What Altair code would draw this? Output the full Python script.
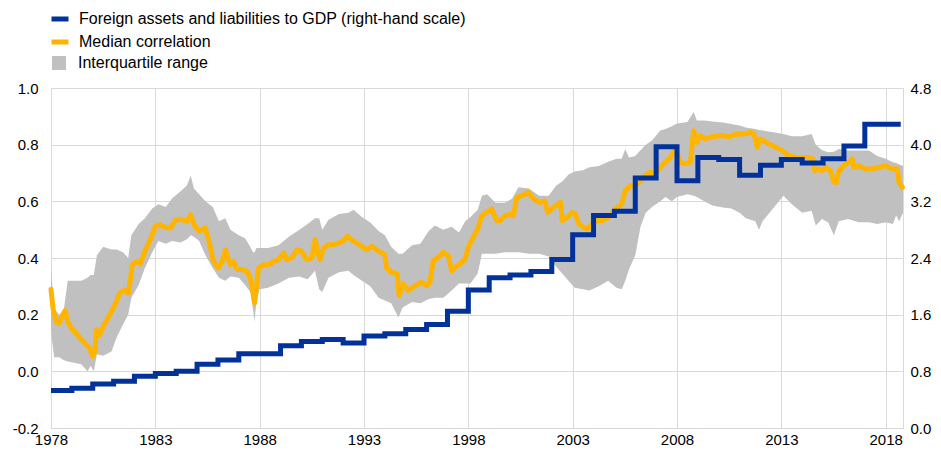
import altair as alt
import pandas as pd

BLUE_LABEL = "Foreign assets and liabilities to GDP (right-hand scale)"
ORANGE_LABEL = "Median correlation"
GRAY_LABEL = "Interquartile range"

TICK_YEARS = [1978, 1983, 1988, 1993, 1998, 2003, 2008, 2013, 2018]
LEFT_TICKS = [-0.2, 0.0, 0.2, 0.4, 0.6, 0.8, 1.0]
RIGHT_TICKS = [0.0, 0.8, 1.6, 2.4, 3.2, 4.0, 4.8]

# Foreign assets and liabilities to GDP (right-hand scale), annual steps
FAL_YEARS = list(range(1978, 2018)) + [2018.72]
FAL_VALUES = [0.53, 0.56, 0.62, 0.66, 0.73, 0.77, 0.80, 0.90, 0.96, 1.05,
              1.05, 1.16, 1.22, 1.25, 1.20, 1.30, 1.33, 1.39, 1.46, 1.65,
              1.95, 2.12, 2.16, 2.21, 2.38, 2.73, 3.00, 3.06, 3.53, 3.97,
              3.49, 3.82, 3.79, 3.57, 3.71, 3.79, 3.74, 3.80, 3.98, 4.29,
              4.29]

# Median correlation
MED_YEARS = [1978.0, 1978.1, 1978.25, 1978.4, 1978.56, 1978.68, 1978.8, 1978.97, 1979.2, 1979.45,
             1979.7, 1979.85, 1980.0, 1980.1, 1980.18, 1980.34, 1980.58, 1980.82, 1981.06, 1981.3,
             1981.55, 1981.71, 1981.9, 1982.1, 1982.27, 1982.5, 1982.76, 1983.0, 1983.24, 1983.48,
             1983.73, 1983.97, 1984.3, 1984.53, 1984.7, 1984.85, 1985.1, 1985.39, 1985.58, 1985.74,
             1985.9, 1986.04, 1986.2, 1986.36, 1986.48, 1986.6, 1986.75, 1986.92, 1987.16, 1987.4,
             1987.55, 1987.67, 1987.76, 1987.84, 1987.95, 1988.19, 1988.43, 1988.67, 1988.9, 1989.15,
             1989.3, 1989.54, 1989.78, 1990.0, 1990.26, 1990.5, 1990.66, 1990.74, 1990.9, 1991.06,
             1991.3, 1991.54, 1991.78, 1992.0, 1992.2, 1992.4, 1992.65, 1992.9, 1993.13, 1993.37,
             1993.6, 1993.85, 1994.0, 1994.08, 1994.3, 1994.45, 1994.6, 1994.68, 1994.88, 1995.12,
             1995.44, 1995.76, 1996.0, 1996.16, 1996.32, 1996.56, 1996.8, 1997.04, 1997.2, 1997.36,
             1997.6, 1997.84, 1998.0, 1998.24, 1998.48, 1998.64, 1998.88, 1999.12, 1999.36, 1999.52,
             1999.76, 2000.0, 2000.16, 2000.32, 2000.56, 2000.88, 2001.12, 2001.43, 2001.68, 2001.8,
             2002.0, 2002.3, 2002.42, 2002.5, 2002.75, 2002.97, 2003.13, 2003.3, 2003.54, 2003.7,
             2003.94, 2004.17, 2004.41, 2004.73, 2005.05, 2005.36, 2005.52, 2005.76, 2006.0, 2006.24,
             2006.48, 2006.72, 2006.96, 2007.2, 2007.44, 2007.68, 2007.92, 2008.16, 2008.4, 2008.64,
             2008.8, 2008.96, 2009.12, 2009.36, 2009.68, 2010.16, 2010.5, 2010.8, 2011.0, 2011.3,
             2011.53, 2011.69, 2011.85, 2012.0, 2012.17, 2012.41, 2012.73, 2013.05, 2013.37, 2013.69,
             2014.0, 2014.33, 2014.52, 2014.6, 2014.8, 2014.96, 2015.12, 2015.36, 2015.52, 2015.64,
             2015.76, 2016.0, 2016.24, 2016.4, 2016.48, 2016.72, 2017.04, 2017.36, 2017.68, 2018.0,
             2018.32, 2018.56, 2018.64, 2018.8]
MED_VALUES = [0.29, 0.22, 0.175, 0.17, 0.20, 0.214, 0.176, 0.153, 0.135, 0.112,
              0.094, 0.082, 0.053, 0.07, 0.147, 0.13, 0.17, 0.20, 0.235, 0.276,
              0.288, 0.276, 0.376, 0.388, 0.379, 0.424, 0.465, 0.512, 0.518, 0.508,
              0.506, 0.535, 0.535, 0.529, 0.553, 0.518, 0.494, 0.506, 0.459, 0.40,
              0.376, 0.365, 0.388, 0.429, 0.40, 0.376, 0.388, 0.359, 0.359, 0.353,
              0.329, 0.282, 0.241, 0.294, 0.365, 0.376, 0.376, 0.388, 0.394, 0.418,
              0.394, 0.40, 0.429, 0.424, 0.394, 0.40, 0.465, 0.435, 0.394, 0.435,
              0.447, 0.447, 0.453, 0.459, 0.476, 0.465, 0.453, 0.441, 0.429, 0.441,
              0.429, 0.418, 0.412, 0.365, 0.35, 0.347, 0.344, 0.267, 0.308, 0.285,
              0.302, 0.314, 0.302, 0.314, 0.391, 0.402, 0.42, 0.408, 0.355, 0.367,
              0.379, 0.396, 0.438, 0.473, 0.508, 0.549, 0.561, 0.573, 0.532, 0.532,
              0.549, 0.555, 0.549, 0.614, 0.62, 0.632, 0.608, 0.596, 0.602, 0.561,
              0.573, 0.591, 0.596, 0.532, 0.544, 0.561, 0.555, 0.52, 0.508, 0.502,
              0.52, 0.532, 0.532, 0.544, 0.573, 0.591, 0.638, 0.655, 0.655, 0.673,
              0.691, 0.702, 0.696, 0.72, 0.738, 0.755, 0.785, 0.738, 0.732, 0.738,
              0.849, 0.808, 0.832, 0.82, 0.828, 0.832, 0.828, 0.836, 0.838, 0.838,
              0.844, 0.838, 0.791, 0.82, 0.814, 0.802, 0.791, 0.779, 0.761, 0.755,
              0.755, 0.755, 0.749, 0.708, 0.714, 0.708, 0.72, 0.708, 0.667, 0.667,
              0.708, 0.726, 0.738, 0.749, 0.72, 0.726, 0.714, 0.714, 0.72, 0.726,
              0.714, 0.714, 0.667, 0.649]

# Interquartile range
BAND_YEARS = [1978.0, 1978.15, 1978.4, 1978.6, 1978.8, 1979.1, 1979.45, 1979.75, 1979.9, 1980.05,
              1980.2, 1980.5, 1980.9, 1981.15, 1981.45, 1981.7, 1981.85, 1982.2, 1982.5, 1982.85,
              1983.15, 1983.5, 1983.8, 1984.2, 1984.5, 1984.7, 1984.85, 1985.1, 1985.4, 1985.75,
              1986.05, 1986.35, 1986.6, 1987.0, 1987.3, 1987.55, 1987.68, 1987.75, 1987.85, 1988.0,
              1988.4, 1988.9, 1989.4, 1989.9, 1990.3, 1990.65, 1990.85, 1991.0, 1991.3, 1991.8,
              1992.25, 1992.5, 1992.9, 1993.3, 1993.7, 1994.0, 1994.3, 1994.65, 1994.85, 1995.3,
              1995.7, 1996.1, 1996.4, 1996.8, 1997.2, 1997.55, 1997.85, 1998.1, 1998.45, 1998.65,
              1998.9, 1999.3, 1999.75, 2000.1, 2000.4, 2000.9, 2001.4, 2001.85, 2002.2, 2002.5,
              2002.8, 2003.1, 2003.5, 2003.8, 2004.25, 2004.7, 2005.1, 2005.35, 2005.52, 2005.7,
              2006.0, 2006.25, 2006.5, 2006.8, 2007.2, 2007.45, 2007.75, 2008.0, 2008.5, 2008.8,
              2008.95, 2009.3, 2009.7, 2010.2, 2010.6, 2011.0, 2011.3, 2011.75, 2011.93, 2012.1,
              2012.6, 2013.1, 2013.5, 2014.0, 2014.45, 2014.65, 2014.95, 2015.25, 2015.52, 2015.75,
              2016.2, 2016.7, 2017.2, 2017.6, 2018.0, 2018.35, 2018.5, 2018.65, 2018.83]
BAND_LOW = [0.14, 0.05, 0.05, 0.04, 0.035, 0.03, 0.025, 0.0, 0.02, 0.0,
            0.06, 0.055, 0.07, 0.12, 0.165, 0.20, 0.26, 0.305, 0.365, 0.42,
            0.46, 0.45, 0.46, 0.455, 0.465, 0.48, 0.475, 0.46, 0.41, 0.365,
            0.33, 0.32, 0.335, 0.33, 0.305, 0.28, 0.22, 0.175, 0.25, 0.29,
            0.295, 0.31, 0.33, 0.335, 0.325, 0.355, 0.29, 0.28, 0.33, 0.35,
            0.355, 0.34, 0.32, 0.30, 0.26, 0.25, 0.24, 0.19, 0.225, 0.245,
            0.24, 0.255, 0.26, 0.26, 0.285, 0.31, 0.31, 0.31, 0.345, 0.415,
            0.415, 0.415, 0.42, 0.42, 0.42, 0.415, 0.415, 0.405, 0.37, 0.345,
            0.32, 0.295, 0.29, 0.285, 0.30, 0.32, 0.295, 0.29, 0.32, 0.36,
            0.41, 0.51, 0.56, 0.58, 0.60, 0.615, 0.60, 0.615, 0.625, 0.62,
            0.615, 0.60, 0.585, 0.578, 0.575, 0.56, 0.54, 0.53, 0.50, 0.53,
            0.575, 0.62, 0.59, 0.56, 0.567, 0.515, 0.538, 0.525, 0.48, 0.53,
            0.538, 0.526, 0.526, 0.52, 0.526, 0.52, 0.55, 0.53, 0.56]
BAND_HIGH = [0.36, 0.22, 0.20, 0.21, 0.32, 0.32, 0.32, 0.33, 0.34, 0.34,
             0.41, 0.44, 0.43, 0.43, 0.42, 0.40, 0.48, 0.52, 0.54, 0.575,
             0.59, 0.58, 0.61, 0.635, 0.655, 0.69, 0.645, 0.625, 0.60, 0.58,
             0.53, 0.54, 0.50, 0.48, 0.47, 0.44, 0.42, 0.42, 0.435, 0.435,
             0.435, 0.445, 0.475, 0.50, 0.52, 0.54, 0.54, 0.50, 0.535, 0.555,
             0.56, 0.57, 0.545, 0.525, 0.495, 0.48, 0.44, 0.415, 0.415, 0.445,
             0.45, 0.495, 0.515, 0.50, 0.51, 0.49, 0.53, 0.545, 0.57, 0.62,
             0.625, 0.595, 0.595, 0.61, 0.65, 0.645, 0.62, 0.62, 0.655, 0.67,
             0.695, 0.705, 0.71, 0.72, 0.725, 0.74, 0.75, 0.75, 0.785, 0.755,
             0.76, 0.78, 0.80, 0.815, 0.85, 0.855, 0.865, 0.875, 0.88, 0.915,
             0.885, 0.885, 0.882, 0.878, 0.873, 0.868, 0.861, 0.855, 0.852, 0.85,
             0.844, 0.838, 0.83, 0.83, 0.838, 0.80, 0.78, 0.773, 0.775, 0.785,
             0.779, 0.779, 0.779, 0.76, 0.75, 0.738, 0.735, 0.73, 0.726]

FONT = "Arial, Liberation Sans, sans-serif"
GRID = "#d9d9d9"

fal = pd.DataFrame({"year": FAL_YEARS, "value": FAL_VALUES, "series": BLUE_LABEL})
med = pd.DataFrame({"year": MED_YEARS, "value": MED_VALUES, "series": ORANGE_LABEL})
band = pd.DataFrame({"year": BAND_YEARS, "low": BAND_LOW, "high": BAND_HIGH, "series": GRAY_LABEL})

x_enc = alt.X(
    "year:Q",
    scale=alt.Scale(domain=[1978, 2018.83], nice=False, zero=False),
    axis=alt.Axis(values=TICK_YEARS, format="d", title=None, grid=True, gridColor=GRID,
                  domain=False, ticks=False, labelPadding=4, labelFlush=False),
)

left_scale = alt.Scale(domain=[-0.2, 1.0], nice=False, zero=False)
left_axis = alt.Axis(values=LEFT_TICKS, title=None, grid=True, gridColor=GRID,
                     domain=False, ticks=False, labelPadding=13,
                     labelExpr="datum.value < 0 ? '-' + format(-datum.value, '.1f') : format(datum.value, '.1f')")

line_color = alt.Color(
    "series:N",
    scale=alt.Scale(domain=[BLUE_LABEL, ORANGE_LABEL], range=["#003299", "#ffb400"]),
    legend=alt.Legend(title=None, orient="none", legendX=-2, legendY=-80, direction="vertical",
                      symbolType="stroke", symbolSize=289, symbolStrokeWidth=5,
                      labelFontSize=16, labelOffset=8, rowPadding=2, labelColor="#000",
                      labelLimit=0),
)

band_fill = alt.Fill(
    "series:N",
    scale=alt.Scale(domain=[GRAY_LABEL], range=["#c0c0c0"]),
    legend=alt.Legend(title=None, orient="none", legendX=0, legendY=-33, direction="vertical",
                      symbolType="square", symbolSize=196, symbolStrokeWidth=0, symbolOpacity=1,
                      labelFontSize=16, labelOffset=11, labelColor="#000", labelLimit=0),
)

band_layer = alt.Chart(band).mark_area(opacity=1, interpolate="linear").encode(
    x=x_enc,
    y=alt.Y("low:Q", scale=left_scale, axis=left_axis),
    y2="high:Q",
    fill=band_fill,
)

med_layer = alt.Chart(med).mark_line(strokeWidth=5, strokeJoin="round", strokeCap="round").encode(
    x=x_enc,
    y=alt.Y("value:Q", scale=left_scale, axis=left_axis),
    color=line_color,
)

fal_layer = alt.Chart(fal).mark_line(strokeWidth=5, interpolate="step-after").encode(
    x=x_enc,
    y=alt.Y("value:Q", scale=alt.Scale(domain=[0, 4.8], nice=False, zero=False),
            axis=alt.Axis(orient="right", values=RIGHT_TICKS, format=".1f", title=None, grid=False,
                          domain=False, ticks=False, labelPadding=7)),
    color=line_color,
)

chart = alt.layer(
    alt.layer(band_layer, med_layer),
    fal_layer,
).resolve_scale(y="independent").properties(
    width=852,
    height=340,
    autosize=alt.AutoSizeParams(type="none"),
    padding={"left": 43, "top": 80, "right": 30, "bottom": 21},
).configure_view(
    stroke=GRID, strokeWidth=1
).configure_axis(
    labelFontSize=15, labelFont=FONT, labelColor="#000"
).configure_legend(
    labelFont=FONT
)

chart.save("out.html", embed_options={"renderer": "svg", "actions": False})
